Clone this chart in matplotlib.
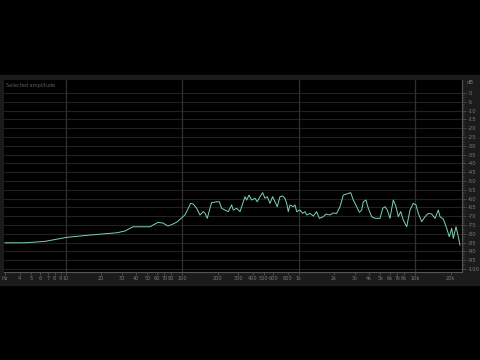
"""
Spectre de frequence (style analyseur) - 480x360, sortie out.png
"""
import numpy as np
import matplotlib
matplotlib.use("Agg")
import matplotlib.pyplot as plt
from matplotlib.patches import Rectangle
from matplotlib.ticker import FixedLocator, NullLocator

# ── Donnees ───────────────────────────────────────────────────────────────────
freq_hz = [3.0, 4.45, 6.6, 10.2, 16.1, 27.4, 32.1, 37.6, 52.6, 61.6, 68.0, 75.1,
           81.2, 89.7, 105, 117.6, 123.8, 132.4, 141.3, 150.8, 156, 163.3, 172.2,
           178.1, 196.7, 207, 217, 231.7, 247.2, 264.5, 272.9, 291.9, 311.6,
           322.2, 344, 355.7, 372.3, 392.6, 419.1, 438.6, 462.6, 488, 510.8,
           534.6, 563.6, 594.6, 622.3, 651.2, 686.9, 724.5, 758.2, 784.2, 809.5,
           837, 893.6, 924.1, 955.6, 1020, 1076, 1126, 1165, 1243, 1327, 1419,
           1494, 1617, 1705, 1846, 1958, 2107, 2249, 2401, 2567, 2778, 2925,
           3129, 3293, 3453, 3564, 3759, 3934, 4207, 4492, 4960, 5231, 5474,
           5728, 6040, 6448, 6802, 7119, 7464, 7858, 8404, 8971, 9575, 10100,
           10570, 11300, 12070, 12880, 13780, 14710, 15700, 16230, 17330, 18530,
           19500, 20450, 21110, 22270, 23310, 24100]
level_db = [-85.1, -85.1, -84.3, -82.0, -80.7, -79.4, -78.4, -76.0, -76.0, -73.5,
            -73.9, -75.6, -74.7, -73.3, -69.3, -62.7, -63.1, -65.5, -69.3, -67.4,
            -68.2, -71.2, -65.5, -62.3, -61.8, -61.8, -65.5, -66.5, -67.4, -63.6,
            -66.5, -65.5, -67.4, -64.6, -58.9, -60.8, -58.0, -60.8, -59.8, -61.8,
            -58.9, -56.6, -59.8, -58.9, -62.7, -58.9, -61.8, -64.6, -58.9, -58.5,
            -59.8, -62.7, -67.4, -63.6, -64.6, -63.6, -67.4, -66.5, -68.4, -67.4,
            -69.3, -68.4, -69.9, -67.4, -71.2, -70.3, -68.8, -69.3, -68.2, -68.4,
            -64.6, -58.0, -57.4, -56.6, -60.8, -64.6, -67.8, -66.5, -61.8, -60.8,
            -65.5, -70.3, -71.2, -71.2, -65.5, -64.6, -66.5, -71.2, -60.8, -64.6,
            -70.3, -67.4, -72.2, -76.0, -66.5, -62.7, -63.6, -68.4, -73.1, -70.3,
            -68.4, -68.8, -71.2, -66.5, -70.3, -71.6, -76.9, -81.7, -76.9, -82.6,
            -76.0, -81.7, -86.4]

xtick_pos = [3, 4, 5, 6, 7, 8, 9, 10, 20, 30, 40, 50, 60, 70, 80, 100,
             200, 300, 400, 500, 600, 800, 1000,
             2000, 3000, 4000, 5000, 6000, 7000, 8000, 10000, 20000]
xtick_lab = ["Hz", "4", "5", "6", "7", "8", "9", "10", "20", "30", "40", "50",
             "60", "70", "80", "100", "200", "300", "400", "500", "600", "800",
             "1k", "2k", "3k", "4k", "5k", "6k", "7k", "8k", "10k", "20k"]
ytick_pos = list(range(-100, 1, 5))

# ── Charte ────────────────────────────────────────────────────────────────────
BG = "#000000"
PANEL = "#1b1b1b"
GRID = "#222222"
DECADE = "#303030"
TXT = "#7a7a7a"
CURVE = "#7fd3ae"
W, H = 480, 360

plt.rcParams["font.family"] = "DejaVu Sans"

fig = plt.figure(figsize=(4.8, 3.6), dpi=100)
fig.patch.set_facecolor(BG)

# cadre gris du panneau
fig.add_artist(Rectangle((0, 1 - 285 / H), 1, (285 - 75) / H,
                         transform=fig.transFigure, color=PANEL, zorder=0))

ax = fig.add_axes([4 / W, 1 - 272 / H, 458 / W, 192 / H])
ax.set_facecolor(BG)
ax.set_xscale("log")
ax.set_xlim(2.94, 25070)
ax.set_ylim(-101.7, 7.4)

for v in ytick_pos:
    ax.axhline(v, color=GRID, lw=0.8, zorder=1)
for d in [10, 100, 1000, 10000]:
    ax.axvline(d, color=DECADE, lw=0.9, zorder=1)

ax.plot(freq_hz, level_db, color=CURVE, lw=0.7, zorder=3)

for s in ["top", "left"]:
    ax.spines[s].set_visible(False)
for s in ["bottom", "right"]:
    ax.spines[s].set_color("#555555")
    ax.spines[s].set_linewidth(0.8)

ax.xaxis.set_major_locator(FixedLocator(xtick_pos))
ax.xaxis.set_minor_locator(NullLocator())
ax.set_xticklabels(xtick_lab)
ax.tick_params(axis="x", colors="#5a5a5a", labelcolor=TXT, labelsize=3.6,
               length=2, width=0.5, pad=1)

ax.yaxis.tick_right()
ax.set_yticks(ytick_pos)
ax.set_yticklabels([str(v) for v in ytick_pos])
ax.yaxis.set_minor_locator(FixedLocator(list(range(-100, 1, 1))))
ax.tick_params(axis="y", which="major", colors="#5a5a5a", labelcolor=TXT,
               labelsize=3.8, length=3, width=0.5, pad=1.5)
ax.tick_params(axis="y", which="minor", colors="#4a4a4a", length=1.5, width=0.4)

fig.text(467 / W, 1 - 82 / H, "dB", ha="left", va="center", fontsize=3.8, color=TXT)
fig.text(6 / W, 1 - 85 / H, "Selected amplitude", ha="left", va="center",
         fontsize=3.6, color="#5e5e5e")

fig.savefig("out.png", dpi=100, facecolor=BG)
